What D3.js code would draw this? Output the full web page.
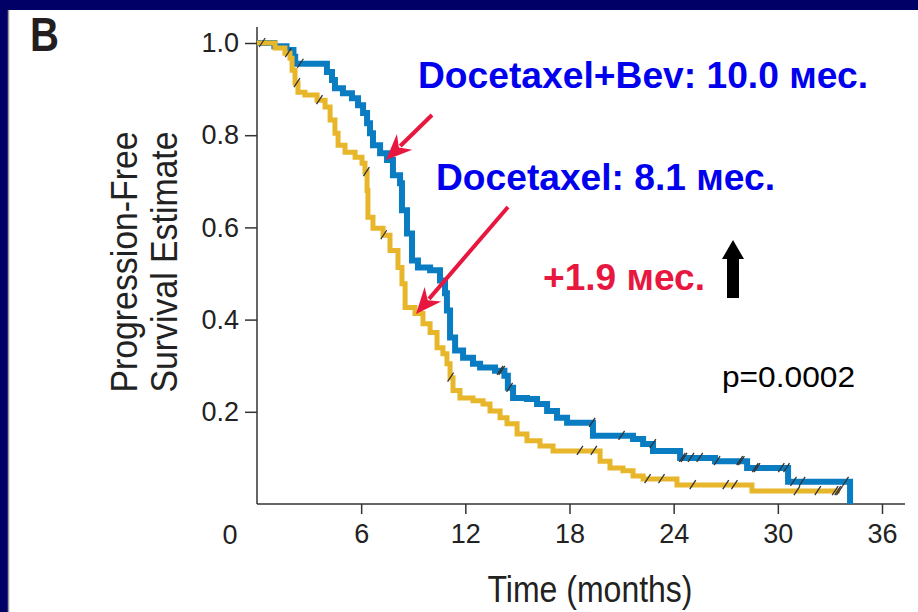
<!DOCTYPE html>
<html>
<head>
<meta charset="utf-8">
<script src="https://cdn.jsdelivr.net/npm/d3@7"></script>
<style>
  html, body { margin: 0; padding: 0; background: #000066; }
  .axis text { font-family: "Liberation Sans Narrow", "Arial Narrow", sans-serif; font-size: 27px; fill: #222; }
  .axis line, .axis path { stroke: #333; stroke-width: 1.5; }
</style>
</head>
<body>
<div class="chart"></div>
<script>
// Docetaxel + Bev (blue) step points: time (months) and PFS estimate
const bevTimes = [0, 1.0, 1.7, 2.1, 2.2, 4.03, 4.32, 4.49, 4.95, 5.47, 5.82, 6.11, 6.34, 6.51, 6.68, 7.09, 7.49,
  7.83, 8.24, 8.35, 8.64, 8.93, 9.27, 9.97, 10.54, 10.83, 10.94, 11.12, 11.41, 11.87, 12.44, 12.85, 13.71,
  14.25, 14.45, 14.75, 15.55, 16.13, 16.71, 17.28, 17.86, 19.35, 21.66, 22.24, 22.81, 24.37, 26.38, 28.23,
  30.59, 34.16];
const bevSurv = [1.0, 0.993, 0.985, 0.97, 0.955, 0.937, 0.92, 0.902, 0.891, 0.88, 0.865, 0.848, 0.826, 0.804,
  0.778, 0.761, 0.746, 0.713, 0.696, 0.637, 0.587, 0.528, 0.513, 0.507, 0.485, 0.457, 0.42, 0.361, 0.333,
  0.317, 0.304, 0.296, 0.289, 0.278, 0.252, 0.23, 0.228, 0.217, 0.202, 0.187, 0.176, 0.148, 0.141, 0.13,
  0.115, 0.1, 0.093, 0.078, 0.048, 0];

// Docetaxel (yellow)
const docTimes = [0, 1.04, 1.61, 1.9, 2.02, 2.19, 2.36, 2.76, 3.46, 3.92, 4.21, 4.49, 4.67, 5.07, 5.65, 6.05,
  6.22, 6.34, 6.39, 6.68, 7.26, 7.66, 8.12, 8.35, 8.53, 9.1, 9.56, 9.97, 10.37, 10.71, 10.94, 11.12, 11.29,
  11.69, 12.44, 13.02, 13.42, 14.0, 14.4, 14.98, 15.55, 16.3, 17.05, 19.76, 20.33, 21.08, 21.66, 22.24,
  24.19, 28.51, 33.58];
const docSurv = [1.0, 0.989, 0.978, 0.967, 0.941, 0.913, 0.893, 0.887, 0.876, 0.861, 0.833, 0.804, 0.778,
  0.763, 0.752, 0.739, 0.72, 0.68, 0.622, 0.598, 0.583, 0.55, 0.513, 0.478, 0.426, 0.413, 0.391, 0.372,
  0.339, 0.326, 0.304, 0.274, 0.246, 0.23, 0.224, 0.217, 0.202, 0.187, 0.174, 0.152, 0.137, 0.126, 0.115,
  0.093, 0.078, 0.072, 0.061, 0.054, 0.041, 0.028, 0.028];

// censoring marks (months)
const bevCensor = [2.5, 14.0, 14.1, 14.55, 19.3, 21.0, 22.8, 24.5, 24.6, 25.0, 25.5, 26.5, 27.8, 27.9,
  28.7, 28.8, 30.2, 30.5, 30.9, 31.4, 33.9];
const docCensor = [0.3, 1.8, 2.3, 3.6, 6.3, 7.3, 11.15, 18.6, 19.4, 22.5, 23.3, 25.1, 27.0, 27.5, 31.1,
  32.3, 33.3, 33.45, 33.55];

const xTicks = [6, 12, 18, 24, 30, 36];
const yTicks = [0.2, 0.4, 0.6, 0.8, 1.0];

const W = 918, H = 612;

const svg = d3.select('.chart')
  .append('svg')
  .attr('width', W)
  .attr('height', H)
  .style('display', 'block');

// navy frame + white panel
svg.append('rect').attr('width', W).attr('height', H).attr('fill', '#000066');
svg.append('rect').attr('x', 8).attr('y', 10).attr('width', W - 8).attr('height', H - 10).attr('fill', '#fff');
svg.append('line').attr('x1', 8.5).attr('x2', 8.5).attr('y1', 10).attr('y2', H)
  .attr('stroke', '#999').attr('stroke-width', 1.5);

const x = d3.scaleLinear().domain([0, 36]).range([257, 882]);
const y = d3.scaleLinear().domain([0, 1]).range([504, 43]);

// axes
const yAxis = d3.axisLeft(y)
  .tickValues(yTicks)
  .tickSize(12)
  .tickPadding(6)
  .tickFormat(d3.format('.1f'));

svg.append('g')
  .attr('class', 'axis')
  .attr('transform', `translate(${x(0)}, 0)`)
  .call(yAxis)
  .call(g => g.select('.domain').remove());

const xAxis = d3.axisBottom(x)
  .tickValues(xTicks)
  .tickSize(10)
  .tickPadding(10);

svg.append('g')
  .attr('class', 'axis')
  .attr('transform', `translate(0, ${y(0)})`)
  .call(xAxis)
  .call(g => g.select('.domain').remove());

// axis lines (y goes above 1.0, x runs past 36)
svg.append('line').attr('x1', x(0)).attr('x2', x(0)).attr('y1', 27).attr('y2', y(0))
  .attr('stroke', '#333').attr('stroke-width', 1.5);
svg.append('line').attr('x1', x(0)).attr('x2', 905).attr('y1', y(0)).attr('y2', y(0))
  .attr('stroke', '#333').attr('stroke-width', 1.5);

const axisFont = '"Liberation Sans Narrow", "Arial Narrow", sans-serif';

svg.append('text')
  .attr('x', 230).attr('y', 544)
  .attr('text-anchor', 'middle')
  .style('font-family', axisFont).style('font-size', '27px').attr('fill', '#222')
  .text('0');

svg.append('text')
  .attr('x', 590).attr('y', 602)
  .attr('text-anchor', 'middle')
  .attr('textLength', 205).attr('lengthAdjust', 'spacingAndGlyphs')
  .style('font-family', axisFont).style('font-size', '36px').attr('fill', '#222')
  .text('Time (months)');

const yTitle = svg.append('text')
  .attr('transform', 'translate(137, 262) rotate(-90)')
  .attr('text-anchor', 'middle')
  .style('font-family', axisFont).style('font-size', '37px').attr('fill', '#222');
yTitle.append('tspan').attr('x', 0).attr('y', 0)
  .attr('textLength', 261).attr('lengthAdjust', 'spacingAndGlyphs')
  .text('Progression-Free');
yTitle.append('tspan').attr('x', 0).attr('y', 40)
  .attr('textLength', 261).attr('lengthAdjust', 'spacingAndGlyphs')
  .text('Survival Estimate');

svg.append('text')
  .attr('x', 30).attr('y', 51)
  .attr('textLength', 29).attr('lengthAdjust', 'spacingAndGlyphs')
  .style('font-family', axisFont).style('font-size', '48px').style('font-weight', 'bold')
  .attr('fill', '#231f20')
  .text('B');

// curves
const toPts = (ts, ss) => ts.map((t, i) => ({ t, s: ss[i] }));
const bevData = toPts(bevTimes, bevSurv);
const docData = toPts(docTimes, docSurv);

const line = d3.line()
  .x(d => x(d.t))
  .y(d => y(d.s))
  .curve(d3.curveStepAfter);

svg.append('path')
  .datum(bevData)
  .attr('d', line)
  .attr('fill', 'none')
  .attr('stroke', '#0a7cc2')
  .attr('stroke-width', 6);

svg.append('path')
  .datum(docData)
  .attr('d', line)
  .attr('fill', 'none')
  .attr('stroke', '#e8b62a')
  .attr('stroke-width', 5);

// censor ticks sit on the curve
function survAt(data, t) {
  let s = data[0].s;
  data.forEach(d => { if (d.t <= t) s = d.s; });
  return s;
}

function drawCensor(times, data) {
  svg.append('g')
    .selectAll('line')
    .data(times)
    .enter()
    .append('line')
    .attr('x1', d => x(d) - 3)
    .attr('x2', d => x(d) + 3)
    .attr('y1', d => y(survAt(data, d)) + 4)
    .attr('y2', d => y(survAt(data, d)) - 5)
    .attr('stroke', '#333')
    .attr('stroke-width', 1.3);
}
drawCensor(bevCensor, bevData);
drawCensor(docCensor, docData);

// annotations
const boldFont = '"Liberation Sans", Arial, sans-serif';

svg.append('text')
  .attr('x', 418).attr('y', 88)
  .attr('textLength', 450).attr('lengthAdjust', 'spacingAndGlyphs')
  .style('font-family', boldFont).style('font-size', '36px').style('font-weight', 'bold')
  .attr('fill', '#0000ee')
  .text('Docetaxel+Bev: 10.0 мес.');

svg.append('text')
  .attr('x', 436).attr('y', 190)
  .attr('textLength', 339).attr('lengthAdjust', 'spacingAndGlyphs')
  .style('font-family', boldFont).style('font-size', '36px').style('font-weight', 'bold')
  .attr('fill', '#0000ee')
  .text('Docetaxel: 8.1 мес.');

svg.append('text')
  .attr('x', 543).attr('y', 290)
  .attr('textLength', 162).attr('lengthAdjust', 'spacingAndGlyphs')
  .style('font-family', boldFont).style('font-size', '36px').style('font-weight', 'bold')
  .attr('fill', '#e8173f')
  .text('+1.9 мес.');

svg.append('text')
  .attr('x', 722).attr('y', 387)
  .attr('textLength', 133).attr('lengthAdjust', 'spacingAndGlyphs')
  .style('font-family', boldFont).style('font-size', '30px')
  .attr('fill', '#000')
  .text('p=0.0002');

// red arrows
function redArrow(x1, y1, x2, y2) {
  const ang = Math.atan2(y2 - y1, x2 - x1);
  const len = 26, half = 11;
  const bx = x2 - len * Math.cos(ang), by = y2 - len * Math.sin(ang);
  svg.append('line')
    .attr('x1', x1).attr('y1', y1).attr('x2', bx + 6 * Math.cos(ang)).attr('y2', by + 6 * Math.sin(ang))
    .attr('stroke', '#e8173f').attr('stroke-width', 4);
  const nx = -Math.sin(ang), ny = Math.cos(ang);
  const notch = 8;
  const pts = [
    [x2, y2],
    [bx + nx * half, by + ny * half],
    [bx + notch * Math.cos(ang), by + notch * Math.sin(ang)],
    [bx - nx * half, by - ny * half]
  ];
  svg.append('polygon')
    .attr('points', pts.map(p => p.join(',')).join(' '))
    .attr('fill', '#e8173f');
}
redArrow(432, 115, 386, 160);
redArrow(508, 207, 416, 314);

// black up arrow
svg.append('polygon')
  .attr('points', [[733, 240], [744, 259], [739, 259], [739, 298], [727, 298], [727, 259], [722, 259]]
    .map(p => p.join(',')).join(' '))
  .attr('fill', '#000');
</script>
</body>
</html>
